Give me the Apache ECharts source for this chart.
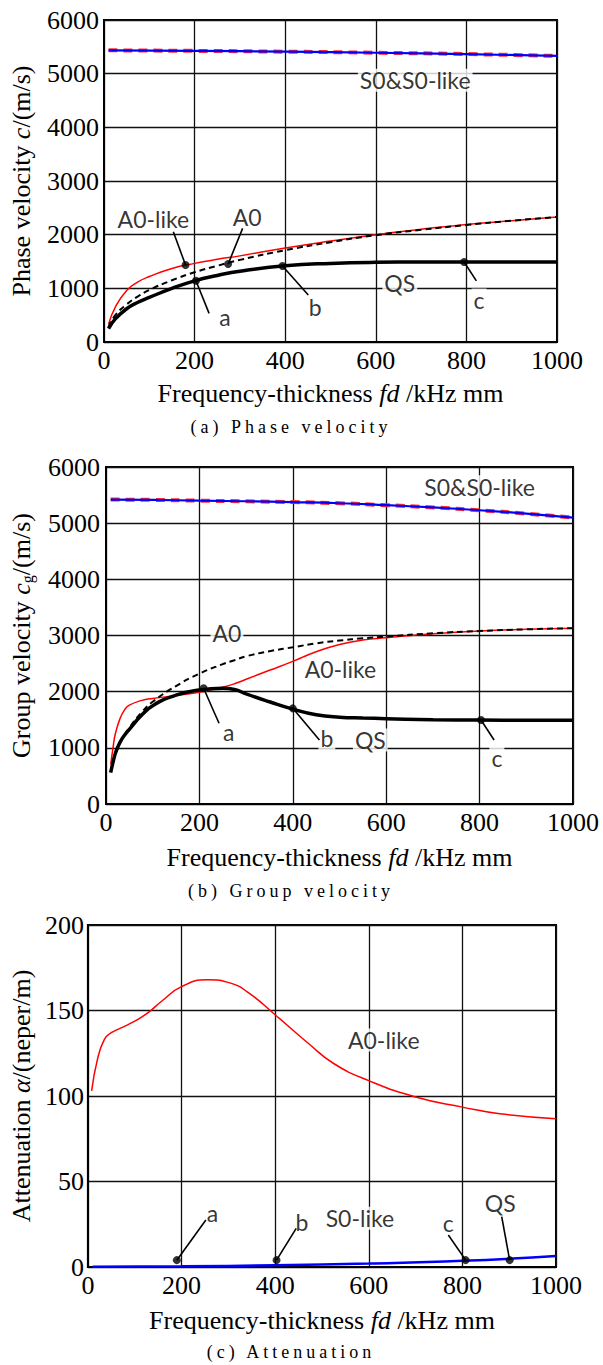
<!DOCTYPE html>
<html><head><meta charset="utf-8">
<script src="https://cdn.jsdelivr.net/npm/echarts@6/dist/echarts.min.js"></script>
<style>html,body{margin:0;padding:0;background:#fff}#c{width:603px;height:1365px}</style>
</head><body><div id="c"></div>
<script>
// ================= DATA =================
const xTicks = [0, 200, 400, 600, 800, 1000];
const velocityTicks = [0, 1000, 2000, 3000, 4000, 5000, 6000];
const attTicks = [0, 50, 100, 150, 200];

// (a) Phase velocity
const fdPhase = [10, 25, 50, 75, 100, 150, 200, 250, 300, 400, 500, 600, 700, 800, 900, 1000];
const phaseQS = [250, 430, 620, 740, 830, 1000, 1140, 1240, 1320, 1420, 1465, 1485, 1490, 1490, 1490, 1490];
const phaseA0 = [280, 500, 700, 850, 970, 1150, 1300, 1420, 1530, 1710, 1860, 1990, 2090, 2180, 2260, 2330];
const phaseA0like = [330, 650, 960, 1120, 1220, 1370, 1465, 1540, 1605, 1750, 1880, 2000, 2100, 2190, 2260, 2330];
const fdPhaseS0 = [10, 200, 400, 600, 800, 1000];
const phaseS0 = [5435, 5425, 5410, 5390, 5365, 5330];
const phaseS0like = [5435, 5425, 5410, 5390, 5365, 5330];
const phaseMarkX = [180, 274, 203, 394, 795];
const phaseMarkY = [1434, 1452, 1142, 1415, 1490];
const phaseLeadX = [153, 306, 232, 451, 822];
const phaseLeadY = [2054, 2117, 534, 875, 1138];
const phaseLabelText = ['A0-like', 'A0', 'a', 'b', 'c', 'QS', 'S0&S0-like'];
const phaseLabelX = [109, 316, 267, 466, 828, 653, 687];
const phaseLabelY = [2290, 2333, 471, 658, 782, 1104, 4879];

// (b) Group velocity
const fdGroup = [10, 15, 20, 30, 40, 50, 75, 100, 150, 200, 250, 275, 300, 350, 400, 450, 500, 550, 600, 700, 800, 900, 1000];
const groupQS = [560, 740, 900, 1100, 1230, 1330, 1570, 1750, 1940, 2030, 2060, 2040, 1960, 1820, 1690, 1590, 1545, 1530, 1520, 1500, 1495, 1490, 1490];
const groupA0 = [580, 740, 880, 1080, 1240, 1360, 1620, 1820, 2100, 2320, 2490, 2560, 2630, 2720, 2790, 2860, 2910, 2950, 2980, 3040, 3080, 3110, 3130];
const groupA0like = [700, 1000, 1250, 1520, 1680, 1760, 1840, 1880, 1930, 1990, 2080, 2140, 2220, 2380, 2540, 2710, 2840, 2920, 2960, 3030, 3080, 3110, 3130];
const fdGroupS0 = [10, 100, 200, 300, 400, 500, 600, 700, 800, 900, 1000];
const groupS0 = [5420, 5415, 5400, 5390, 5375, 5355, 5320, 5280, 5230, 5170, 5100];
const groupS0like = [5420, 5415, 5400, 5390, 5375, 5355, 5320, 5280, 5230, 5170, 5100];
const groupMarkX = [209, 400, 803];
const groupMarkY = [2060, 1703, 1495];
const groupLeadX = [242, 457, 831];
const groupLeadY = [1437, 1139, 1139];
const groupLabelText = ['S0&S0-like', 'A0', 'A0-like', 'a', 'b', 'QS', 'c'];
const groupLabelX = [800, 259, 502, 263, 473, 566, 837];
const groupLabelY = [5649, 3039, 2398, 1287, 1169, 1139, 813];

// (c) Attenuation
const fdAtt = [8, 20, 35, 50, 85, 125, 160, 200, 255, 305, 345, 400, 470, 525, 600, 700, 800, 880, 1000];
const attA0like = [103, 121, 133, 137, 141.6, 148, 156, 164, 168, 166, 160, 147.5, 131, 119, 109, 99.4, 93.5, 89.6, 86.7];
const fdAttS0 = [10, 200, 400, 600, 800, 1000];
const attS0like = [0.1, 0.4, 1.0, 2.0, 3.6, 6.4];
const attMarkX = [190, 403, 807, 901];
const attMarkY = [4, 4, 4, 4];
const attLeadX = [252, 445, 770, 884];
const attLeadY = [27.5, 22.6, 18.7, 29.4];
const attLabelText = ['A0-like', 'a', 'b', 'S0-like', 'c', 'QS'];
const attLabelX = [632, 266, 457, 581, 770, 881];
const attLabelY = [132.7, 31.4, 26.5, 28.5, 25.5, 37.2];

const captions = ['(a) Phase velocity', '(b) Group velocity', '(c) Attenuation'];

// ================= BUILD =================
const SERIF = 'Liberation Serif';
const SANS = 'Lato';
const zip = (xs, ys) => xs.map((x, i) => [x, ys[i]]);

const grids = [
  { left: 104, top: 20, width: 453, height: 322 },
  { left: 96, top: 467, width: 477, height: 337 },
  { left: 87, top: 925, width: 469, height: 342 }
].map(g => Object.assign(g, { show: true, borderColor: '#000', borderWidth: 2, backgroundColor: 'transparent' }));

const nameRich = {
  i: { fontFamily: SERIF, fontSize: 26, fontStyle: 'italic', color: '#000' },
  s: { fontFamily: SERIF, fontSize: 16, color: '#000', padding: [12, 0, 0, 0] }
};
const plain = v => String(v);
const xNameGaps = [38, 40, 40];
const xAxes = [0, 1, 2].map(i => ({
  type: 'value', gridIndex: i, min: xTicks[0], max: xTicks[xTicks.length - 1], interval: xTicks[1] - xTicks[0],
  axisLine: { show: true, lineStyle: { color: '#000', width: 2 } },
  axisTick: { show: false },
  splitLine: { show: true, lineStyle: { color: '#111', width: 1.3 } },
  axisLabel: { fontFamily: SERIF, fontSize: 26, color: '#000', margin: 5, formatter: plain },
  name: 'Frequency-thickness {i|fd} /kHz mm', nameLocation: 'middle', nameGap: xNameGaps[i],
  nameTextStyle: { fontFamily: SERIF, fontSize: 26, color: '#000', rich: nameRich }
}));
const yNames = ['Phase velocity {i|c}/(m/s)', 'Group velocity {i|c}{s|g}/(m/s)', 'Attenuation {i|α}/(neper/m)'];
const yNameGaps = [70, 71, 47];
const yTicksArr = [velocityTicks, velocityTicks, attTicks];
const yMargins = [5, 6, 4];
const yAxes = [0, 1, 2].map(i => ({
  type: 'value', gridIndex: i, min: yTicksArr[i][0], max: yTicksArr[i][yTicksArr[i].length - 1],
  interval: yTicksArr[i][1] - yTicksArr[i][0],
  axisLine: { show: true, lineStyle: { color: '#000', width: 2 } },
  axisTick: { show: false },
  splitLine: { show: true, lineStyle: { color: '#111', width: 1.3 } },
  axisLabel: { fontFamily: SERIF, fontSize: 26, color: '#000', margin: yMargins[i], formatter: plain },
  name: yNames[i], nameLocation: 'middle', nameGap: yNameGaps[i],
  nameTextStyle: { fontFamily: SERIF, fontSize: 26, color: '#000', rich: nameRich }
}));

const series = [];
function curve(gi, name, xs, ys, lineStyle, z) {
  series.push({
    type: 'line', name, xAxisIndex: gi, yAxisIndex: gi, data: zip(xs, ys),
    symbol: 'none', showSymbol: false, smooth: 0.5,
    lineStyle, z: z || 3, silent: true
  });
}
function annotate(gi, mx, my, lx, ly, texts, tx, ty) {
  mx.forEach((x, i) => {
    series.push({
      type: 'line', xAxisIndex: gi, yAxisIndex: gi, data: [[x, my[i]], [lx[i], ly[i]]],
      symbol: 'none', lineStyle: { color: '#000', width: 1.6 }, z: 6, silent: true
    });
  });
  series.push({
    type: 'scatter', xAxisIndex: gi, yAxisIndex: gi, data: zip(mx, my),
    symbolSize: 8, itemStyle: { color: '#000' }, z: 7, silent: true
  });
  series.push({
    type: 'scatter', xAxisIndex: gi, yAxisIndex: gi,
    data: texts.map((t, i) => ({ name: t, value: [tx[i], ty[i]] })),
    symbolSize: 1, itemStyle: { color: 'rgba(0,0,0,0)' }, z: 5, silent: true,
    label: { show: true, position: 'inside', formatter: '{b}', fontFamily: SANS, fontSize: 23,
      color: '#000', backgroundColor: '#fff', padding: [0, 2] }
  });
}

const S0likeStyle = { color: '#ff3030', width: 4, type: [9, 6] };
const S0Style = { color: '#0000ff', width: 2.2 };
const A0likeStyle = { color: '#ff0000', width: 1.5 };
const A0Style = { color: '#000', width: 2, type: [6, 4] };
const QSStyle = { color: '#000', width: 3.5 };

// (a)
curve(0, 'S0-like', fdPhaseS0, phaseS0like, S0likeStyle, 3);
curve(0, 'S0', fdPhaseS0, phaseS0, S0Style, 4);
curve(0, 'A0-like', fdPhase, phaseA0like, A0likeStyle, 3);
curve(0, 'A0', fdPhase, phaseA0, A0Style, 3);
curve(0, 'QS', fdPhase, phaseQS, QSStyle, 4);
annotate(0, phaseMarkX, phaseMarkY, phaseLeadX, phaseLeadY, phaseLabelText, phaseLabelX, phaseLabelY);
// (b)
curve(1, 'S0-like', fdGroupS0, groupS0like, S0likeStyle, 3);
curve(1, 'S0', fdGroupS0, groupS0, S0Style, 4);
curve(1, 'A0-like', fdGroup, groupA0like, A0likeStyle, 3);
curve(1, 'A0', fdGroup, groupA0, A0Style, 3);
curve(1, 'QS', fdGroup, groupQS, QSStyle, 4);
annotate(1, groupMarkX, groupMarkY, groupLeadX, groupLeadY, groupLabelText, groupLabelX, groupLabelY);
// (c)
curve(2, 'A0-like', fdAtt, attA0like, A0likeStyle, 3);
curve(2, 'S0-like', fdAttS0, attS0like, { color: '#0000ff', width: 2.5 }, 4);
annotate(2, attMarkX, attMarkY, attLeadX, attLeadY, attLabelText, attLabelX, attLabelY);

const capTops = [413, 877, 1338];
const title = captions.map((t, i) => ({
  text: t, left: 286, top: capTops[i], textAlign: 'center',
  textStyle: { fontFamily: SERIF, fontSize: 18, fontWeight: 'normal', color: '#000' }
}));

const chart = echarts.init(document.getElementById('c'), null, { renderer: 'svg', width: 603, height: 1365 });
chart.setOption({
  animation: false, backgroundColor: '#fff',
  title, grid: grids, xAxis: xAxes, yAxis: yAxes, series
});
function spaceCaptions() {
  document.querySelectorAll('#c text').forEach(el => {
    if (captions.includes(el.textContent.trim())) el.style.letterSpacing = '4px';
  });
}
spaceCaptions();
chart.on('finished', spaceCaptions);
</script></body></html>
